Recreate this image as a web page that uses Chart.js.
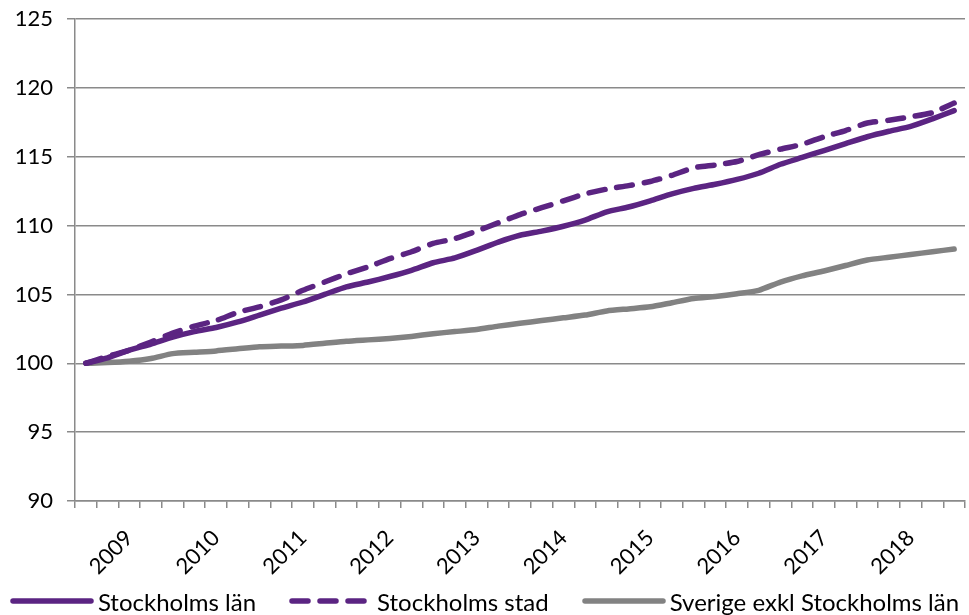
<!DOCTYPE html>
<html>
<head>
<meta charset="utf-8">
<script src="https://cdn.jsdelivr.net/npm/chart.js@4.4.1/dist/chart.umd.min.js"></script>
<style>
  html, body { margin:0; padding:0; background:#fff; }
  #wrap { position:relative; width:969px; height:615px; }
  #legend { position:absolute; left:0; top:586px; width:969px; height:30px;
            display:flex; justify-content:center; align-items:center; gap:33px;
            font-family: Lato, "Noto Sans", sans-serif; font-size:24px; color:#000; }
  #legend .item { display:flex; align-items:center; gap:4px; white-space:nowrap; }
  #legend svg { display:block; }
</style>
</head>
<body>
<div id="wrap">
  <canvas id="chart" width="969" height="615"></canvas>
  <div id="legend"></div>
</div>
<script>
/* kvartal 2008 K4 – 2018 K4, årtal visas vid K2 */
const categories = [
  '',
  '', '2009', '', '',
  '', '2010', '', '',
  '', '2011', '', '',
  '', '2012', '', '',
  '', '2013', '', '',
  '', '2014', '', '',
  '', '2015', '', '',
  '', '2016', '', '',
  '', '2017', '', '',
  '', '2018', '', ''
];

const stockholmsLan = [
  100.0,
  100.4, 100.95, 101.4, 101.9,
  102.3, 102.6, 103.0, 103.5,
  104.0, 104.45, 105.0, 105.55,
  105.9, 106.3, 106.75, 107.3,
  107.65, 108.2, 108.8, 109.3,
  109.6, 109.95, 110.4, 111.0,
  111.35, 111.8, 112.3, 112.7,
  113.0, 113.35, 113.8, 114.45,
  114.95, 115.45, 115.95, 116.45,
  116.85, 117.2, 117.75, 118.35
];

const stockholmsStad = [
  100.0,
  100.5, 100.95, 101.55, 102.2,
  102.7, 103.1, 103.7, 104.1,
  104.6, 105.3, 105.9, 106.5,
  107.0, 107.6, 108.1, 108.7,
  109.05, 109.6, 110.2, 110.8,
  111.3, 111.8, 112.3, 112.65,
  112.9, 113.2, 113.65, 114.2,
  114.4, 114.65, 115.15, 115.55,
  115.9, 116.45, 116.9, 117.45,
  117.65, 117.9, 118.2, 118.9
];

const sverigeExkl = [
  100.0,
  100.05, 100.15, 100.35, 100.7,
  100.8, 100.9, 101.05, 101.2,
  101.25, 101.3, 101.45, 101.6,
  101.7, 101.8, 101.95, 102.15,
  102.3, 102.45, 102.7, 102.9,
  103.1, 103.3, 103.5, 103.8,
  103.95, 104.1, 104.4, 104.7,
  104.85, 105.05, 105.3, 105.9,
  106.35, 106.7, 107.1, 107.5,
  107.7, 107.9, 108.1, 108.3
];

const yMin = 90, yMax = 125, yStep = 5;

const PURPLE = '#5b2482';
const GREY_LINE = '#828282';
const AXIS = '#8a8a8a';
const FONT = 'Lato, "Noto Sans", sans-serif';
const LINE_W = 5.5;
const DASH = [16, 12];

const datasets = [
  { label: 'Stockholms län', data: stockholmsLan, borderColor: PURPLE, backgroundColor: PURPLE,
    borderWidth: LINE_W, pointRadius: 0, tension: 0.2, borderCapStyle: 'round' },
  { label: 'Stockholms stad', data: stockholmsStad, borderColor: PURPLE, backgroundColor: PURPLE,
    borderWidth: LINE_W, pointRadius: 0, tension: 0.2, borderDash: DASH, borderCapStyle: 'round' },
  { label: 'Sverige exkl Stockholms län', data: sverigeExkl, borderColor: GREY_LINE, backgroundColor: GREY_LINE,
    borderWidth: LINE_W, pointRadius: 0, tension: 0.2, borderCapStyle: 'round' }
];

const ctx = document.getElementById('chart');
new Chart(ctx, {
  type: 'line',
  data: { labels: categories, datasets },
  options: {
    responsive: false,
    animation: false,
    layout: { padding: { top: 19, right: 4, left: 0, bottom: 34 } },
    plugins: {
      tooltip: { enabled: false },
      legend: { display: false }
    },
    scales: {
      x: {
        offset: true,
        grid: { offset: true, drawOnChartArea: false, drawTicks: true, tickLength: 7, color: AXIS, lineWidth: 1.5 },
        border: { color: AXIS, width: 1.5 },
        ticks: { autoSkip: false, maxRotation: 45, minRotation: 45, color: '#000', padding: 17,
                 font: { family: FONT, size: 22 } },
        afterFit: s => { s.height = 80; s.paddingLeft = 0; s.paddingRight = 0; }
      },
      y: {
        min: yMin, max: yMax,
        grid: { color: AXIS, lineWidth: 1.5, tickLength: 8 },
        border: { color: AXIS, width: 1.5 },
        ticks: { stepSize: yStep, color: '#000', padding: 14, font: { family: FONT, size: 22 } },
        afterFit: s => { s.width = 75; s.paddingTop = 0; s.paddingBottom = 0; }
      }
    }
  }
});

// legend as html, one line sample per dataset
const legend = document.getElementById('legend');
legend.innerHTML = datasets.map(d => `
  <div class="item">
    <svg width="84" height="10"><line x1="3" y1="5" x2="81" y2="5" stroke="${d.borderColor}"
      stroke-width="${LINE_W}" stroke-linecap="round" ${d.borderDash ? `stroke-dasharray="${d.borderDash.join(' ')}"` : ''}/></svg>
    <span>${d.label}</span>
  </div>`).join('');
</script>
</body>
</html>
